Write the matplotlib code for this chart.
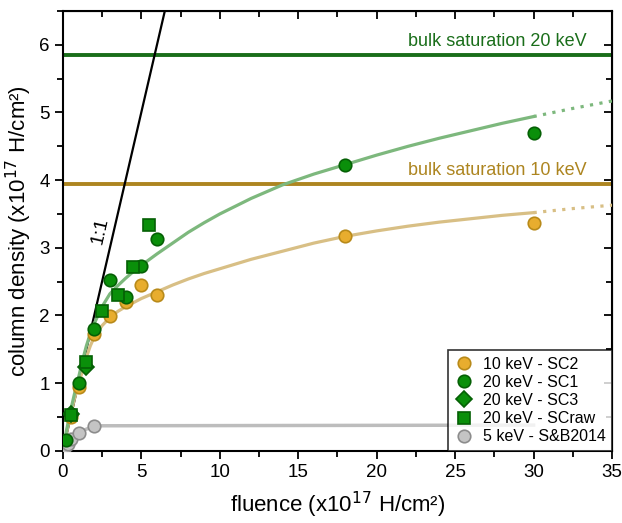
import matplotlib.pyplot as plt
from matplotlib.ticker import MultipleLocator

plt.rcParams['font.family'] = ['Liberation Sans', 'DejaVu Sans']

# measured points
sc2_x = [0.5, 1, 2, 3, 4, 5, 6, 18, 30]
sc2_y = [0.5, 0.94, 1.72, 1.99, 2.20, 2.45, 2.31, 3.17, 3.37]

sc1_x = [0.2, 0.5, 1, 2, 3, 4, 5, 6, 18, 30]
sc1_y = [0.16, 0.54, 1.0, 1.80, 2.53, 2.27, 2.73, 3.13, 4.23, 4.69]

sc3_x = [0.5, 1.5]
sc3_y = [0.55, 1.24]

scraw_x = [0.5, 1.5, 2.5, 3.5, 4.5, 5.5]
scraw_y = [0.53, 1.32, 2.07, 2.31, 2.71, 3.34]

sb_x = [0.1, 0.3, 0.5, 1, 2]
sb_y = [0.03, 0.1, 0.18, 0.27, 0.37]

# fit curves
fit20_x = [0, 0.25, 0.5, 0.75, 1, 1.25, 1.5, 1.75, 2, 2.5, 3, 3.5, 4, 4.5, 5, 6, 7, 8, 9, 10,
           12, 14, 16, 18, 20, 22, 24, 26, 28, 30]
fit20_y = [0, 0.32, 0.6, 0.85, 1.08, 1.33, 1.55, 1.73, 1.88, 2.13, 2.32, 2.44, 2.55, 2.65, 2.74,
           2.91, 3.07, 3.23, 3.37, 3.50, 3.73, 3.93, 4.09, 4.23, 4.37, 4.50, 4.62, 4.73, 4.84, 4.94]
fit20_ext_x = [30, 32.5, 35]
fit20_ext_y = [4.94, 5.06, 5.17]

fit10_x = [0, 0.25, 0.5, 0.75, 1, 1.25, 1.5, 1.75, 2, 2.5, 3, 3.5, 4, 5, 6, 7, 8, 9, 10,
           12, 14, 16, 18, 20, 22, 24, 26, 28, 30]
fit10_y = [0, 0.28, 0.54, 0.78, 0.98, 1.18, 1.38, 1.55, 1.68, 1.85, 1.97, 2.06, 2.13, 2.25, 2.35,
           2.45, 2.54, 2.62, 2.69, 2.83, 2.95, 3.07, 3.17, 3.25, 3.32, 3.38, 3.43, 3.48, 3.52]
fit10_ext_x = [30, 32.5, 35]
fit10_ext_y = [3.52, 3.58, 3.63]

sb_line_x = [0, 0.1, 0.3, 0.5, 1, 2, 30]
sb_line_y = [0, 0.03, 0.1, 0.18, 0.27, 0.37, 0.38]

one_x = [0, 7]
one_y = [0, 7]

bulk20 = 5.85
bulk10 = 3.95

c_green_dark = '#1a6e1a'
c_orange = '#e8ad2e'
c_gold = '#ad8520'

fig = plt.figure(figsize=(6.22, 5.23), dpi=100)
ax = fig.add_axes([0.101, 0.138, 0.883, 0.841])

ax.axhline(bulk20, color=c_green_dark, lw=2.8, zorder=2)
ax.axhline(bulk10, color=c_gold, lw=2.8, zorder=2)
ax.text(33.4, bulk20 + 0.07, 'bulk saturation 20 keV', color=c_green_dark, fontsize=13,
        ha='right', va='bottom')
ax.text(33.4, bulk10 + 0.07, 'bulk saturation 10 keV', color=c_gold, fontsize=13,
        ha='right', va='bottom')

ax.plot(one_x, one_y, color='black', lw=1.6, zorder=3)
ax.text(2.35, 3.25, '1:1', rotation=77, fontsize=14, ha='center', va='center')

ax.plot(sb_line_x, sb_line_y, color='#bdbdbd', lw=2.5, zorder=3)
ax.plot(fit10_x, fit10_y, color='#d8bf85', lw=2.3, zorder=3)
ax.plot(fit10_ext_x, fit10_ext_y, color='#d8bf85', lw=2.3, ls=(0, (1, 2)), zorder=3)
ax.plot(fit20_x, fit20_y, color='#7db87d', lw=2.3, zorder=3)
ax.plot(fit20_ext_x, fit20_ext_y, color='#7db87d', lw=2.3, ls=(0, (1, 2)), zorder=3)

ms = 9
ax.plot(sc2_x, sc2_y, 'o', ms=ms, mfc=c_orange, mec='#b88a1a', mew=1.2, ls='none',
        label='10 keV - SC2', zorder=4)
ax.plot(sc1_x, sc1_y, 'o', ms=ms, mfc='#0a8f0a', mec='#056005', mew=1.2, ls='none',
        label='20 keV - SC1', zorder=5)
ax.plot(sc3_x, sc3_y, 'D', ms=8, mfc='#0a8f0a', mec='#056005', mew=1.2, ls='none',
        label='20 keV - SC3', zorder=5)
ax.plot(scraw_x, scraw_y, 's', ms=8, mfc='#0a8f0a', mec='#056005', mew=1.2, ls='none',
        label='20 keV - SCraw', zorder=5)
ax.plot(sb_x, sb_y, 'o', ms=ms, mfc='#c4c4c4', mec='#8c8c8c', mew=1.2, ls='none',
        label='5 keV - S&B2014', zorder=4)

ax.set_xlim(0, 35)
ax.set_ylim(0, 6.5)
ax.xaxis.set_major_locator(MultipleLocator(5))
ax.xaxis.set_minor_locator(MultipleLocator(2.5))
ax.yaxis.set_major_locator(MultipleLocator(1))
ax.yaxis.set_minor_locator(MultipleLocator(0.5))
ax.tick_params(which='both', direction='out', width=1.3, labelsize=13.5)
ax.tick_params(which='major', length=6)
ax.tick_params(which='minor', length=4)
for s in ax.spines.values():
    s.set_linewidth(1.5)

# mirrored axes with inward ticks
top = ax.secondary_xaxis('top')
top.xaxis.set_major_locator(MultipleLocator(5))
top.xaxis.set_minor_locator(MultipleLocator(2.5))
top.tick_params(which='both', direction='in', width=1.3, labeltop=False)
top.tick_params(which='major', length=6)
top.tick_params(which='minor', length=4)
right = ax.secondary_yaxis('right')
right.yaxis.set_major_locator(MultipleLocator(1))
right.yaxis.set_minor_locator(MultipleLocator(0.5))
right.tick_params(which='both', direction='in', width=1.3, labelright=False)
right.tick_params(which='major', length=6)
right.tick_params(which='minor', length=4)

ax.set_xlabel('fluence (x10$^{17}$ H/cm²)', fontsize=16, labelpad=6)
ax.set_ylabel('column density (x10$^{17}$ H/cm²)', fontsize=16, labelpad=4)

leg = ax.legend(loc='lower right', fontsize=11.5, frameon=True, fancybox=False, edgecolor='black',
                borderaxespad=0, handletextpad=0.6, labelspacing=0.2, borderpad=0.4,
                handlelength=1.2)
leg.get_frame().set_linewidth(1.2)
leg.set_zorder(10)

fig.savefig('out.png', dpi=100)
